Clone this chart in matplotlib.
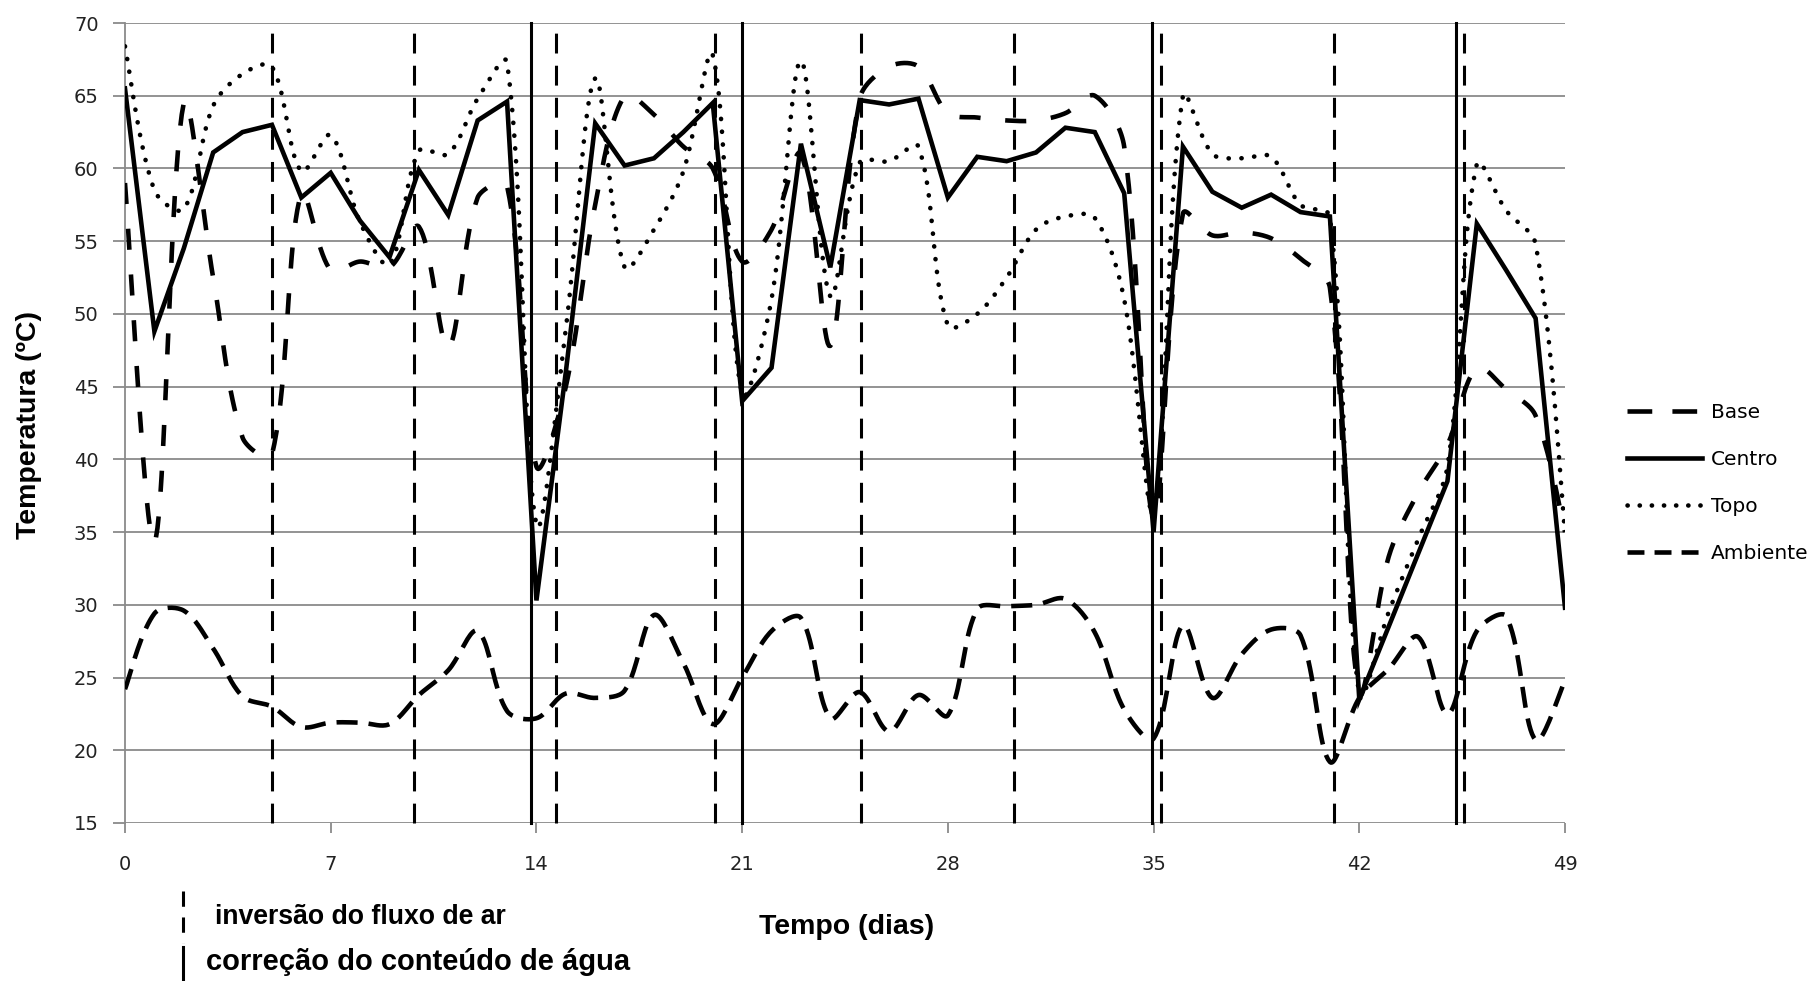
import numpy as np
import matplotlib
matplotlib.use("Agg")
import matplotlib.pyplot as plt
from matplotlib.lines import Line2D

# ---------------- data ----------------
days = list(range(50))
base = [59.0, 34.3, 64.5, 52.5, 41.5, 40.3, 58.3, 53.0, 53.6, 53.2,
        56.0, 47.7, 58.0, 58.8, 39.5, 45.0, 57.5, 65.0, 63.7, 61.5,
        60.0, 53.6, 55.8, 61.0, 47.8, 64.8, 67.0, 67.0, 63.8, 63.5,
        63.3, 63.3, 63.8, 65.0, 61.5, 36.0, 56.9, 55.4, 55.6, 55.2,
        53.8, 51.8, 24.0, 33.3, 37.7, 41.0, 46.3, 44.8, 43.0, 35.0]
centro = [65.5, 48.8, 54.5, 61.1, 62.5, 63.0, 58.0, 59.7, 56.4, 53.9,
          59.9, 56.8, 63.3, 64.6, 30.3, 46.0, 63.1, 60.2, 60.7, 62.5,
          64.5, 44.0, 46.3, 61.7, 53.2, 64.7, 64.4, 64.8, 58.0, 60.8,
          60.5, 61.1, 62.8, 62.5, 58.3, 35.0, 61.5, 58.4, 57.3, 58.2,
          57.0, 56.7, 23.5, 28.5, 33.5, 38.5, 56.2, 53.0, 49.7, 29.8]
topo = [68.4, 58.5, 57.2, 64.3, 66.5, 67.0, 59.8, 62.3, 56.3, 53.4,
        61.2, 61.0, 64.8, 67.3, 35.5, 49.0, 66.2, 53.2, 55.8, 59.8,
        67.8, 44.5, 51.0, 67.4, 51.2, 60.4, 60.5, 61.5, 49.2, 50.0,
        52.5, 55.8, 56.7, 56.6, 51.0, 36.5, 65.0, 61.0, 60.7, 60.8,
        57.5, 56.7, 23.8, 29.5, 34.5, 39.5, 60.3, 57.1, 54.8, 35.0]
ambiente = [24.2, 29.4, 29.6, 27.0, 23.7, 23.0, 21.6, 21.9, 21.9, 21.8,
            23.8, 25.5, 28.2, 22.7, 22.2, 23.9, 23.6, 24.1, 29.3, 26.0,
            21.8, 25.0, 28.2, 29.1, 22.2, 24.0, 21.3, 23.8, 22.4, 29.7,
            29.9, 30.0, 30.4, 28.1, 22.8, 20.8, 28.6, 23.6, 26.6, 28.3,
            27.9, 19.2, 23.6, 25.6, 27.8, 22.5, 28.2, 29.2, 20.7, 24.8]

inversao_fluxo = [5.0, 9.83, 14.65, 20.08, 25.05, 30.26, 35.25, 41.13, 45.56]
correcao_agua = [13.82, 20.99, 34.93, 45.28]

x_ticks = [0, 7, 14, 21, 28, 35, 42, 49]
y_ticks = [15, 20, 25, 30, 35, 40, 45, 50, 55, 60, 65, 70]

series_labels = ["Base", "Centro", "Topo", "Ambiente"]
x_label = "Tempo (dias)"
y_label = "Temperatura (ºC)"
note_dashed = "inversão do fluxo de ar"
note_solid = "correção do conteúdo de água"

# ---------------- figure ----------------
W, H = 1814, 981
AX_L, AX_R, AX_T, AX_B = 125, 1565, 23, 823
XMIN, XMAX, YMIN, YMAX = 0, 49, 15, 70
SX = (AX_R - AX_L) / (XMAX - XMIN)   # px per day
SY = (AX_B - AX_T) / (YMAX - YMIN)   # px per degree


def smooth(x, y, n=20):
    """Smoothed line through the points (Bezier, tangents weighted by
    on-screen segment lengths, similar to a spreadsheet 'smoothed line')."""
    P = np.column_stack([np.asarray(x, float), np.asarray(y, float)])
    S = P * np.array([SX, SY])
    E = np.vstack([P[0], P, P[-1]])
    ES = np.vstack([S[0], S, S[-1]])
    t = np.linspace(0, 1, n, endpoint=False)[:, None]
    out = []
    for i in range(len(P) - 1):
        p0, p3 = P[i], P[i + 1]
        L = np.linalg.norm(ES[i + 2] - ES[i + 1])
        Lp = np.linalg.norm(ES[i + 1] - ES[i])
        Ln = np.linalg.norm(ES[i + 3] - ES[i + 2])
        w1 = L / (L + Lp) if Lp > 0 else 0.5
        w2 = L / (L + Ln) if Ln > 0 else 0.5
        c1 = p0 + (E[i + 2] - E[i]) * w1 / 3.0
        c2 = p3 - (E[i + 3] - E[i + 1]) * w2 / 3.0
        out.append((1 - t) ** 3 * p0 + 3 * (1 - t) ** 2 * t * c1
                   + 3 * (1 - t) * t ** 2 * c2 + t ** 3 * p3)
    out.append(P[-1:])
    a = np.vstack(out)
    return a[:, 0], a[:, 1]


fig = plt.figure(figsize=(W / 100, H / 100), dpi=100)
ax = fig.add_axes([AX_L / W, 1 - AX_B / H, (AX_R - AX_L) / W, (AX_B - AX_T) / H])

grid_c = "#8a8a8a"
ax.set_xlim(XMIN, XMAX)
ax.set_ylim(YMIN, YMAX)
ax.set_yticks(y_ticks)
ax.set_xticks(x_ticks)
for y in y_ticks:
    ax.axhline(y, color=grid_c, lw=1.3, zorder=1)
for s in ["top", "right", "bottom"]:
    ax.spines[s].set_visible(False)
ax.spines["left"].set_color(grid_c)
ax.spines["left"].set_linewidth(1.3)
ax.tick_params(axis="y", direction="out", length=9, width=1.3, color=grid_c,
               pad=10, labelsize=14, labelcolor="#222222")
ax.tick_params(axis="x", direction="out", length=7, width=1.3, color=grid_c,
               pad=16, labelsize=14, labelcolor="#222222")
for lab in ax.get_xticklabels() + ax.get_yticklabels():
    lab.set_family("DejaVu Sans")

LW = 3.3
# vertical event lines
for xv in inversao_fluxo:
    ax.plot([xv, xv], [YMIN, YMAX], color="black", lw=2.2, dashes=(6.5, 4.0),
            zorder=3, clip_on=False)
for xv in correcao_agua:
    ax.plot([xv, xv], [YMIN, YMAX], color="black", lw=2.2, zorder=3,
            clip_on=False)

# series
bx, by = smooth(days, base)
ax.plot(bx, by, color="black", lw=LW, dashes=(4.6, 5.4), zorder=4)
ax.plot(days, centro, color="black", lw=LW, zorder=5, solid_joinstyle="miter")
tx, ty = smooth(days, topo)
ax.plot(tx, ty, color="black", lw=LW, dashes=(0.05, 2.75),
        dash_capstyle="round", zorder=4)
axx, axy = smooth(days, ambiente)
ax.plot(axx, axy, color="black", lw=LW, dashes=(4.6, 2.4), zorder=4)

# axis titles
bold = dict(family=["Liberation Sans", "DejaVu Sans"], weight="bold")
fig.text(29 / W, 1 - 425 / H, y_label, rotation=90, ha="center", va="center",
         size=20.5, **bold)
fig.text(847 / W, 1 - 927 / H, x_label, ha="center", va="center",
         size=20.5, **bold)

# legend
handles = [
    Line2D([], [], color="black", lw=LW, dashes=(5.4, 4.4)),
    Line2D([], [], color="black", lw=LW),
    Line2D([], [], color="black", lw=LW, dashes=(0.05, 2.6),
           dash_capstyle="round"),
    Line2D([], [], color="black", lw=LW, dashes=(3.7, 2.2)),
]
fig.legend(handles, series_labels, loc="center left",
           bbox_to_anchor=(1627 / W, 1 - 483 / H), frameon=False,
           borderpad=0, borderaxespad=0, handlelength=3.7, handletextpad=0.45,
           labelspacing=1.38, prop=dict(family="DejaVu Sans", size=14.5))

# notes below the chart
fig.add_artist(Line2D([183 / W, 183 / W], [1 - 891 / H, 1 - 943 / H],
                      color="black", lw=2.2, dashes=(5, 3.5)))
fig.add_artist(Line2D([183 / W, 183 / W], [1 - 947 / H, 1 - 981 / H],
                      color="black", lw=2.2))
fig.text(215 / W, 1 - 917 / H, note_dashed, ha="left", va="center",
         size=19.2, **bold)
fig.text(206 / W, 1 - 962 / H, note_solid, ha="left", va="center",
         size=21, **bold)

fig.savefig("out.png", dpi=100, facecolor="white")
